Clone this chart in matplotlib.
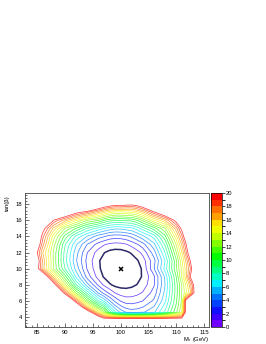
import numpy as np
import matplotlib
matplotlib.use("Agg")
import matplotlib.pyplot as plt
from matplotlib.colors import ListedColormap, BoundaryNorm
from matplotlib.cm import ScalarMappable
from matplotlib.ticker import MultipleLocator

plt.rcParams['font.family'] = ['Liberation Sans', 'DejaVu Sans']
plt.rcParams['mathtext.default'] = 'regular'

# scan grid: M_h (GeV) columns, tan(beta) rows (top row first)
mh = [84, 86, 88, 90, 92, 94, 96, 97, 98, 99, 100, 101, 102, 103, 104,
      106, 108, 110, 111, 111.7, 112.5, 113.5, 115]
tanb = [19, 18, 17, 16, 15, 14, 13, 12, 11, 10, 9, 8, 7, 6, 5.3, 4.6, 3.8]

# chi2 values estimated from the contour positions
chi2 = [
    [30, 30, 30, 30, 30, 30, 30, 30, 30, 30, 30, 30, 30, 30, 30, 30, 30, 30, 30, 30, 30, 30, 30],
    [30, 30, 30, 30, 28, 26.9, 23.7, 22.3, 21.5, 20.9, 21.1, 20.6, 20.5, 21.0, 22.1, 25.3, 27, 30, 30, 30, 30, 30, 30],
    [30, 28, 25.6, 23.1, 20.6, 19.1, 17.1, 16.1, 15.2, 14.7, 14.6, 14.9, 14.9, 15.6, 16.7, 19.7, 22.5, 25, 27, 28, 30, 30, 30],
    [30, 24.4, 19.8, 17.5, 15.1, 13.0, 12.0, 11.0, 10.3, 10.0, 10.0, 10.1, 10.3, 11.0, 12.2, 14.9, 17.0, 20.7, 23.6, 26, 28, 30, 30],
    [26.8, 20.8, 16.6, 12.9, 10.9, 8.9, 7.6, 7.0, 6.5, 6.2, 6.25, 6.5, 6.7, 7.5, 8.5, 10.5, 12.9, 17.6, 20.5, 22.9, 26, 29, 30],
    [25.2, 19.3, 14.3, 10.6, 7.7, 5.9, 4.45, 4.08, 3.6, 3.47, 3.5, 3.73, 4.18, 4.9, 5.7, 7.4, 10.7, 15.7, 18.7, 21.3, 24.3, 28, 30],
    [24.6, 18.4, 13.3, 9.1, 6.1, 3.94, 2.58, 2.09, 1.77, 1.63, 1.67, 1.9, 2.32, 2.91, 3.57, 5.7, 9.1, 14.1, 17.1, 19.6, 22.6, 26, 30],
    [23.0, 17.0, 12.7, 8.6, 5.37, 3.0, 1.53, 1.05, 0.71, 0.57, 0.6, 0.78, 1.12, 1.63, 2.29, 4.5, 8.0, 12.9, 15.9, 18.5, 21.6, 25, 30],
    [24.6, 17.8, 12.7, 8.4, 5.1, 2.68, 1.12, 0.64, 0.30, 0.13, 0.1, 0.21, 0.5, 0.91, 1.54, 3.66, 7.0, 11.8, 14.8, 17.0, 19.9, 23.7, 30],
    [24, 17.5, 12.8, 9.0, 5.6, 2.9, 1.2, 0.64, 0.28, 0.07, 0.0, 0.07, 0.28, 0.62, 1.15, 3.9, 7.4, 11.8, 14.3, 16.3, 18.8, 23, 30],
    [29, 23.1, 16.3, 11.5, 6.8, 3.58, 1.58, 0.9, 0.43, 0.18, 0.15, 0.2, 0.36, 0.66, 1.11, 2.8, 6.2, 11.0, 14.1, 16.5, 19.9, 24.4, 30],
    [30, 28, 21, 14.3, 9.1, 5.4, 2.78, 1.82, 1.15, 0.74, 0.65, 0.66, 0.78, 1.04, 1.44, 2.9, 6.0, 10.5, 13.0, 15.0, 17.5, 21.5, 30],
    [30, 30, 26, 19.1, 12.9, 8.6, 4.9, 3.66, 2.77, 1.98, 1.55, 1.43, 1.5, 1.72, 2.1, 3.4, 6.3, 10.5, 13.0, 14.5, 16.5, 21.5, 30],
    [30, 30, 30, 26, 18.9, 12.5, 8.2, 6.8, 5.1, 3.77, 2.93, 2.56, 2.53, 2.72, 3.0, 4.2, 6.8, 10.8, 13.2, 20.5, 25, 25, 30],
    [30, 30, 30, 30, 23.2, 16.3, 11.6, 10.0, 7.2, 5.3, 4.2, 3.55, 3.46, 3.6, 3.9, 5.0, 7.5, 11.2, 13.5, 20.5, 30, 30, 30],
    [30, 30, 30, 30, 30, 22, 16.0, 13.3, 9.7, 7.2, 5.7, 4.9, 4.5, 4.6, 4.86, 5.8, 8.2, 11.8, 14.0, 20.5, 30, 30, 30],
    [30, 30, 30, 30, 30, 28, 22.5, 20.5, 20.5, 20.5, 20.5, 20.5, 20.5, 20.5, 20.5, 20.5, 20.5, 20.5, 20.5, 20.5, 30, 30, 30],
]

best_fit = (100.0, 10.0)
levels = list(range(1, 21))
palette = ['#7000ff', '#4000ff', '#1010ff', '#0040ff', '#0070ff',
           '#00b0ff', '#00f0ff', '#00ffc0', '#00ff80', '#00ff40',
           '#00ff00', '#40ff00', '#80ff00', '#c0ff00', '#f0ff00',
           '#ffe000', '#ffa000', '#ff7000', '#ff3000', '#ff0000']

fig = plt.figure(figsize=(2.66, 3.44), dpi=100)
ax = fig.add_axes([0.094, 0.0494, 0.6917, 0.3896])
cax = fig.add_axes([0.793, 0.0494, 0.041, 0.3896])

Z = np.array(chi2)[::-1]
Y = np.array(tanb)[::-1]

ax.contour(mh, Y, Z, levels=levels[1:], colors=palette[1:],
           linewidths=0.55, alpha=0.75)
ax.contour(mh, Y, Z, levels=levels[:1], colors='#2b2868', linewidths=1.1)
ax.plot(best_fit[0], best_fit[1], marker='x', color='k', ms=3.5, mew=1.1)

ax.set_xlim(82.8, 115.9)
ax.set_ylim(2.76, 19.4)
ax.xaxis.set_major_locator(MultipleLocator(5))
ax.xaxis.set_minor_locator(MultipleLocator(1))
ax.yaxis.set_major_locator(MultipleLocator(2))
ax.yaxis.set_minor_locator(MultipleLocator(0.4))
ax.tick_params(which='both', direction='in', top=False, right=False,
               labelsize=4.2, width=0.5, color='#333333', pad=2)
ax.tick_params(which='major', length=3)
ax.tick_params(which='minor', length=1.5)
for s in ax.spines.values():
    s.set_color('#444444')
    s.set_linewidth(0.6)

cmap = ListedColormap(palette)
norm = BoundaryNorm(list(range(0, 21)), cmap.N)
cb = fig.colorbar(ScalarMappable(norm=norm, cmap=cmap), cax=cax,
                  ticks=list(range(0, 21, 2)))
cb.outline.set_linewidth(0.5)
cax.tick_params(labelsize=4.2, length=2, width=0.5, pad=1)

fig.text(0.026, 0.433, "tan(β)", rotation=90, ha='center', va='top', fontsize=4.2)
fig.text(0.786, 0.0145, "M$_h$ (GeV)", ha='right', va='center', fontsize=4.2)

fig.savefig("out.png", dpi=100)
